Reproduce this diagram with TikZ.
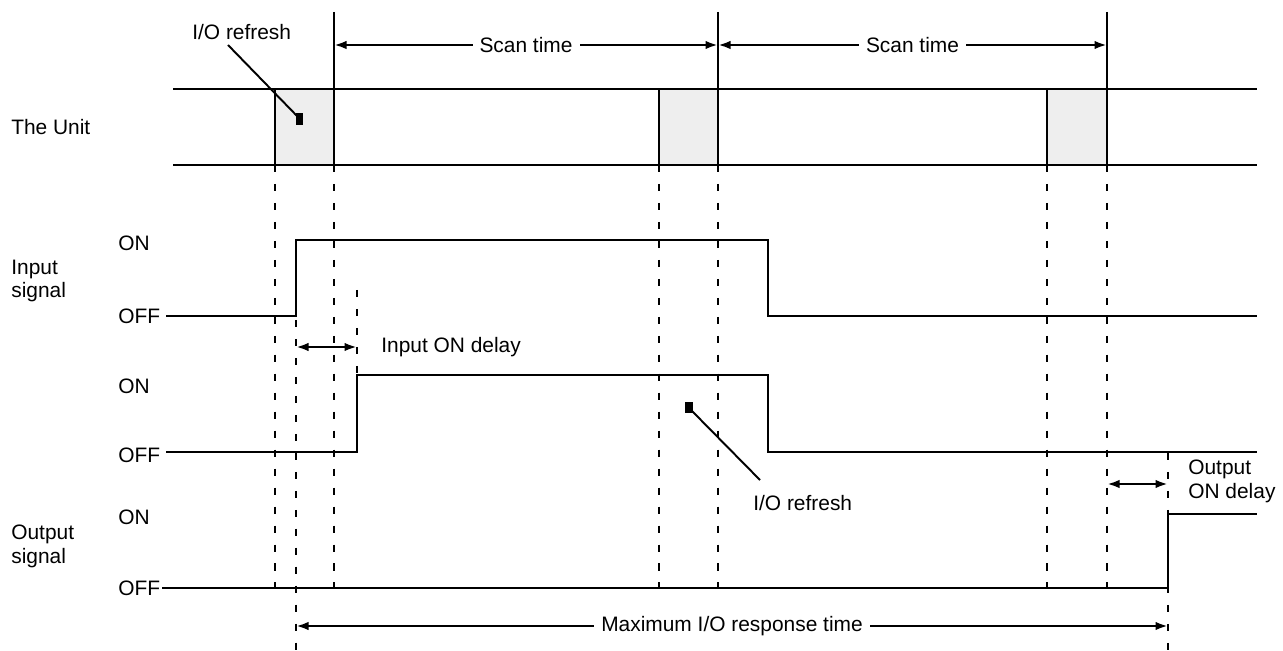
\documentclass[tikz,border=0pt]{standalone}
\usepackage{fontspec}
\setmainfont{Liberation Sans}
\usetikzlibrary{arrows.meta,positioning}
\definecolor{refill}{HTML}{EEEEEE}

\begin{document}
\begin{tikzpicture}[x=0.02cm,y=-0.02cm,line width=1.5pt,
	every node/.style={font=\fontsize{11.9}{13.6}\selectfont},
	lbl/.style={anchor=west,inner sep=0pt,align=left},
	gap/.style={fill=white,inner xsep=4pt,inner ysep=1pt},
	guide/.style={line width=1.5pt,dash pattern=on 4pt off 6.8pt},
	dim/.style={{Latex[length=2.5mm,width=1.7mm]}-{Latex[length=2.5mm,width=1.7mm]}},
	leader/.style={line width=1.1pt}]
	\useasboundingbox (0,0) rectangle (1283,651);

	% refresh periods of the Unit
	\foreach \a/\b in {275/334,659/718,1047/1107}
		\filldraw[fill=refill] (\a,89) rectangle (\b,165);
	\draw (173,89) -- (1257,89);
	\draw (173,165) -- (1257,165);
	\foreach \x in {334,718,1107}
		\draw (\x,12) -- (\x,165);

	% guide lines
	\foreach \x in {275,334,659,718,1047,1107}
		\draw[guide] (\x,165) -- (\x,588);
	\draw[guide] (296,320) -- (296,651);
	\draw[guide] (357,290) -- (357,375);
	\draw[guide] (1168,453) -- (1168,651);

	% row labels
	\node[lbl] (unit) at (10,127) {The Unit};
	\node[lbl] (insig) at (10,281) {Input\\signal};
	\node[lbl] (outsig) at (10,546) {Output\\signal};
	\node[lbl] (on1) at (117,243) {ON};
	\node[lbl] (off1) at (117,316) {OFF};
	\node[lbl] (on2) at (117,386) {ON};
	\node[lbl] (off2) at (117,455) {OFF};
	\node[lbl] (on3) at (117,517) {ON};
	\node[lbl] (off3) at (117,588) {OFF};

	% signals
	\draw (166,316) -- (296,316) -- (296,240) -- (768,240) -- (768,316) -- (1257,316);
	\draw (166,452) -- (357,452) -- (357,375) -- (768,375) -- (768,452) -- (1257,452);
	\draw (162,588) -- (1168,588) -- (1168,514) -- (1257,514);

	% scan times
	\coordinate (s0) at (334,45);
	\coordinate (s1) at (718,45);
	\coordinate (s2) at (1107,45);
	\draw[dim] (s0) -- node[gap] {Scan time} (s1);
	\draw[dim] (s1) -- node[gap] {Scan time} (s2);

	% delays
	\coordinate (d0) at (296,347);
	\coordinate (d1) at (357,347);
	\draw[dim] (d0) -- (d1);
	\node[lbl] (indelay) at (380,347) {Input ON delay};
	\coordinate (e0) at (1107,484);
	\coordinate (e1) at (1168,484);
	\draw[dim] (e0) -- (e1);
	\node[lbl] (outdelay) at (1187,481) {Output\\ON delay};

	\coordinate (r0) at (296,626);
	\coordinate (r1) at (1168,626);
	\draw[dim] (r0) -- node[gap] {Maximum I/O response time} (r1);

	% I/O refresh pointers
	\node[lbl] (ref1) at (191,32) {I/O refresh};
	\coordinate (p1) at (228,45);
	\coordinate (m1) at (298,117);
	\draw[leader] (p1) -- (m1);
	\fill (296,113) rectangle (303,125);
	\node[lbl] (ref2) at (752,503) {I/O refresh};
	\coordinate (p2) at (760,480);
	\coordinate (m2) at (692,411);
	\draw[leader] (p2) -- (m2);
	\fill (685,402) rectangle (693,413);
\end{tikzpicture}
\end{document}
